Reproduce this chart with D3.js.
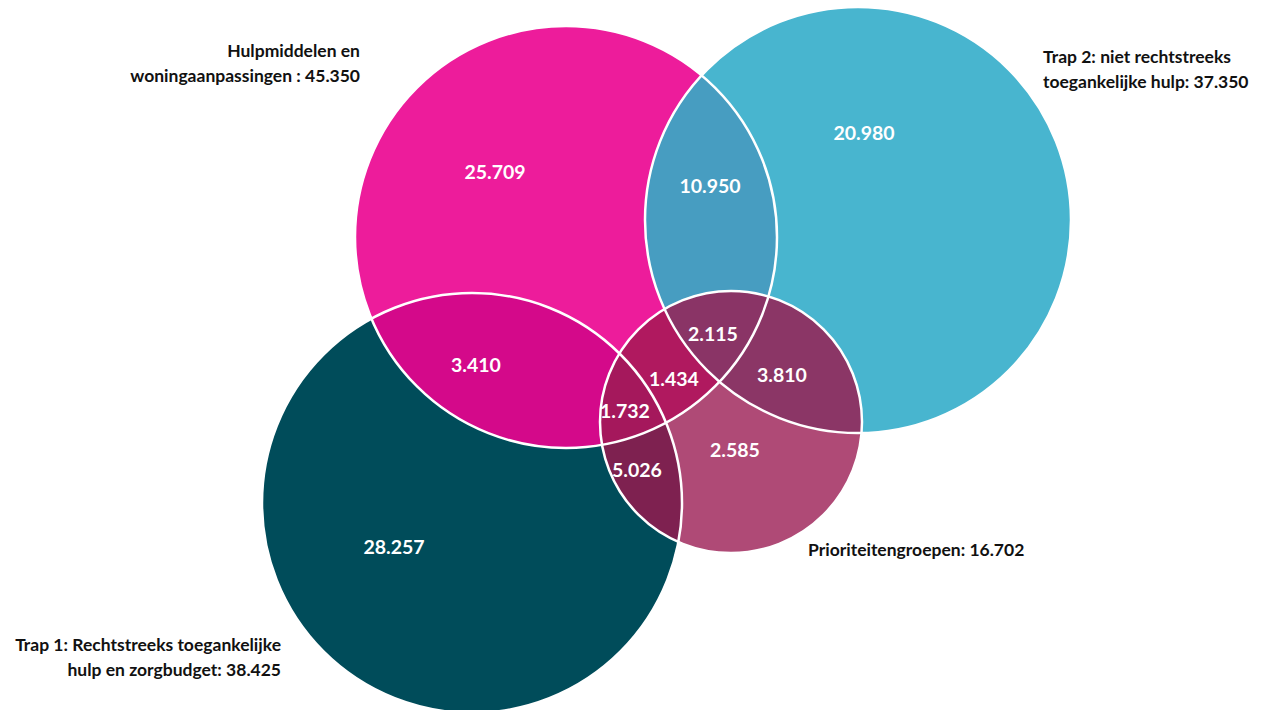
<!DOCTYPE html>
<html>
<head>
<meta charset="utf-8">
<script src="https://cdn.jsdelivr.net/npm/d3@7"></script>
<style>
  body { margin: 0; background: #fff; }
  text { font-family: Lato, "Open Sans", sans-serif; font-weight: 700; }
</style>
</head>
<body>
<script>
const w = 1261
const h = 710

// Sets: id, name lines, colour of the part that belongs only to this set
const setIds = ["A", "B", "C", "D"]
const setLabels = [
  ["Hulpmiddelen en", "woningaanpassingen : 45.350"],
  ["Trap 2: niet rechtstreeks", "toegankelijke hulp: 37.350"],
  ["Trap 1: Rechtstreeks toegankelijke", "hulp en zorgbudget: 38.425"],
  ["Prioriteitengroepen: 16.702"]
]
// Circle layout, in layout units (1 unit = 10 px)
const setCx = [56.6, 85.8, 47.2, 73.1]
const setCy = [23.7, 22.0, 50.3, 42.2]
const setR  = [21.1, 21.3, 21.0, 13.1]
// where the set label sits (layout units) and its text anchor
const setLabelX = [36.0, 104.3, 28.1, 80.8]
const setLabelY = [5.7, 6.3, 65.1, 55.6]
const setAnchor = ["end", "start", "end", "start"]

// Regions: which sets they lie in, value, fill, label position
const regionSets   = ["A", "B", "C", "D", "AB", "AC", "AD", "BD", "CD", "ABD", "ACD"]
const regionValues = ["25.709", "20.980", "28.257", "2.585", "10.950", "3.410", "1.434", "3.810", "5.026", "2.115", "1.732"]
const regionColors = ["#ed1c9b", "#48b5cf", "#004c5a", "#af4a76", "#479dc1", "#d4098a",
                      "#b0195f", "#8b3666", "#7e2150", "#8a3466", "#a5185c"]
const regionLabelX = [49.5, 86.4, 39.4, 73.5, 71.0, 47.6, 67.4, 78.2, 63.7, 71.3, 62.5]
const regionLabelY = [17.2, 13.3, 54.7, 45.0, 18.6, 36.5, 37.9, 37.5, 47.0, 33.4, 41.1]

const x = d3.scaleLinear().domain([0, 126.1]).range([0, w])
const y = d3.scaleLinear().domain([0, 71.0]).range([0, h])
const rScale = d3.scaleLinear().domain([0, 126.1]).range([0, w])

const circles = setIds.map((id, i) => ({
  id, cx: x(setCx[i]), cy: y(setCy[i]), r: rScale(setR[i])
}))

const svg = d3.select("body")
              .append("svg")
              .attr("width", w)
              .attr("height", h)

const defs = svg.append("defs")

// one clipPath per circle
defs.selectAll("clipPath")
    .data(circles)
    .enter()
    .append("clipPath")
      .attr("id", d => `clip-${d.id}`)
    .append("circle")
      .attr("cx", d => d.cx)
      .attr("cy", d => d.cy)
      .attr("r", d => d.r)

// one mask per region to cut away the sets it is not in
regionSets.forEach(key => {
  const mask = defs.append("mask").attr("id", `mask-${key}`)
  mask.append("rect").attr("width", w).attr("height", h).attr("fill", "white")
  circles.filter(c => !key.includes(c.id)).forEach(c => {
    mask.append("circle")
        .attr("cx", c.cx).attr("cy", c.cy).attr("r", c.r)
        .attr("fill", "black")
  })
})

const regions = svg.append("g").attr("class", "regions")

regionSets.forEach((key, i) => {
  let g = regions.append("g").attr("mask", `url(#mask-${key})`)
  key.split("").forEach(id => {
    g = g.append("g").attr("clip-path", `url(#clip-${id})`)
  })
  g.append("rect")
    .attr("width", w)
    .attr("height", h)
    .attr("fill", regionColors[i])
})

// white outlines
svg.append("g")
    .selectAll("circle")
    .data(circles)
    .enter()
    .append("circle")
      .attr("cx", d => d.cx)
      .attr("cy", d => d.cy)
      .attr("r", d => d.r)
      .attr("fill", "none")
      .attr("stroke", "white")
      .attr("stroke-width", 2.5)

// region values
svg.append("g")
    .selectAll("text")
    .data(regionValues)
    .enter()
    .append("text")
      .attr("x", (d, i) => x(regionLabelX[i]))
      .attr("y", (d, i) => y(regionLabelY[i]))
      .attr("dy", "0.36em")
      .attr("text-anchor", "middle")
      .attr("fill", "white")
      .style("font-size", "19.5px")
      .text(d => d)

// set names
const setText = svg.append("g")
    .selectAll("text")
    .data(setLabels)
    .enter()
    .append("text")
      .attr("x", (d, i) => x(setLabelX[i]))
      .attr("y", (d, i) => y(setLabelY[i]))
      .attr("text-anchor", (d, i) => setAnchor[i])
      .attr("fill", "#111")
      .style("font-size", "17.5px")

setText.selectAll("tspan")
    .data(d => d)
    .enter()
    .append("tspan")
      .attr("x", function () { return this.parentNode.getAttribute("x") })
      .attr("dy", (d, i) => i === 0 ? 0 : 25)
      .text(d => d)
</script>
</body>
</html>
